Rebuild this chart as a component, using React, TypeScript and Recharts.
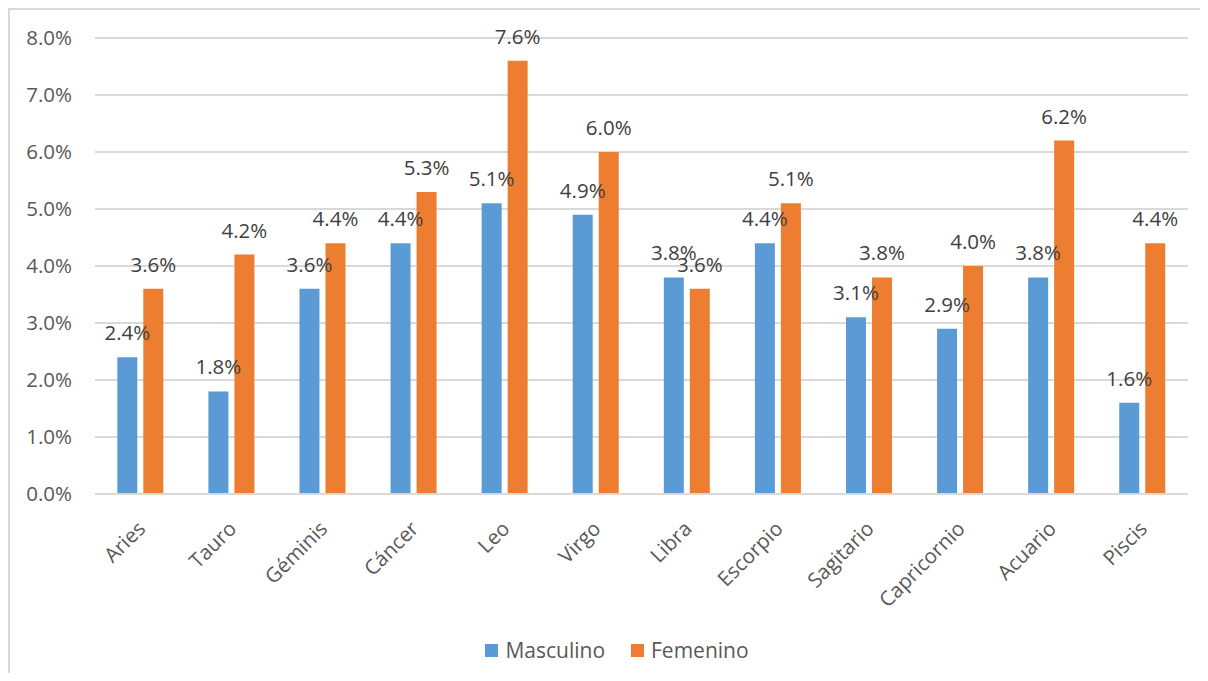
import React from "react";
import {
  BarChart,
  Bar,
  XAxis,
  YAxis,
  CartesianGrid,
  Legend,
  LabelList,
} from "recharts";

// Signos del zodiaco y porcentaje por sexo
const signos = [
  "Aries",
  "Tauro",
  "Géminis",
  "Cáncer",
  "Leo",
  "Virgo",
  "Libra",
  "Escorpio",
  "Sagitario",
  "Capricornio",
  "Acuario",
  "Piscis",
];
const masculino = [2.4, 1.8, 3.6, 4.4, 5.1, 4.9, 3.8, 4.4, 3.1, 2.9, 3.8, 1.6];
const femenino = [3.6, 4.2, 4.4, 5.3, 7.6, 6.0, 3.6, 5.1, 3.8, 4.0, 6.2, 4.4];
const yTicks = [0, 1, 2, 3, 4, 5, 6, 7, 8];

const data = signos.map((signo, i) => ({
  signo,
  Masculino: masculino[i],
  Femenino: femenino[i],
}));

const FONT = "'Open Sans', sans-serif";
const AXIS_COLOR = "#595959";
const LABEL_COLOR = "#404040";
const GRID_COLOR = "#d9d9d9";
const BLUE = "#5b9bd5";
const ORANGE = "#ed7d31";

const pct = (v: number) => `${v.toFixed(1)}%`;

const SignoTick = (props: any) => {
  const { x, y, payload } = props;
  const px = x + 6;
  const py = y + 28;
  return (
    <text
      x={px}
      y={py}
      transform={`rotate(-45, ${px}, ${py})`}
      textAnchor="end"
      fill={AXIS_COLOR}
      fontSize={20.5}
      fontFamily={FONT}
    >
      {payload.value}
    </text>
  );
};

const LegendContent = () => (
  <div
    style={{
      display: "flex",
      justifyContent: "center",
      alignItems: "center",
      fontFamily: FONT,
      fontSize: 21,
      color: AXIS_COLOR,
      height: 30,
      paddingLeft: 38,
    }}
  >
    {[
      { name: "Masculino", color: BLUE },
      { name: "Femenino", color: ORANGE },
    ].map((it, i) => (
      <div
        key={it.name}
        style={{ display: "flex", alignItems: "center", marginLeft: i ? 26 : 0 }}
      >
        <span
          style={{
            display: "inline-block",
            width: 13,
            height: 13,
            background: it.color,
            marginRight: 7,
          }}
        />
        <span>{it.name}</span>
      </div>
    ))}
  </div>
);

export default function App() {
  return (
    <div style={{ position: "relative", width: 1200, height: 665, overflow: "hidden" }}>
      {/* chart frame: only the top and left edges are visible */}
      <div
        style={{
          position: "absolute",
          left: 0,
          top: 0,
          width: 1200,
          height: 2,
          background: GRID_COLOR,
        }}
      />
      <div
        style={{
          position: "absolute",
          left: 0,
          top: 0,
          width: 2,
          height: 665,
          background: GRID_COLOR,
        }}
      />
      <BarChart
        width={1200}
        height={665}
        data={data}
        margin={{ top: 30, right: 20, left: 0, bottom: 8 }}
        barCategoryGap="24.5%"
        barGap={6}
      >
        <CartesianGrid vertical={false} stroke={GRID_COLOR} strokeWidth={2} />
        <XAxis
          dataKey="signo"
          height={141}
          interval={0}
          tickLine={false}
          axisLine={{ stroke: GRID_COLOR, strokeWidth: 2 }}
          tick={<SignoTick />}
        />
        <YAxis
          width={87}
          domain={[0, 8]}
          ticks={yTicks}
          tickFormatter={pct}
          axisLine={false}
          tickLine={false}
          tickSize={0}
          tickMargin={23}
          tick={{ fill: AXIS_COLOR, fontSize: 20.5, fontFamily: FONT }}
        />
        <Legend verticalAlign="bottom" height={30} content={<LegendContent />} />
        <Bar dataKey="Masculino" fill={BLUE} isAnimationActive={false}>
          <LabelList
            dataKey="Masculino"
            position="top"
            offset={17}
            formatter={(v: any) => pct(Number(v))}
            fill={LABEL_COLOR}
            fontSize={20.5}
            fontFamily={FONT}
          />
        </Bar>
        <Bar dataKey="Femenino" fill={ORANGE} isAnimationActive={false}>
          <LabelList
            dataKey="Femenino"
            position="top"
            offset={17}
            formatter={(v: any) => pct(Number(v))}
            fill={LABEL_COLOR}
            fontSize={20.5}
            fontFamily={FONT}
          />
        </Bar>
      </BarChart>
    </div>
  );
}
